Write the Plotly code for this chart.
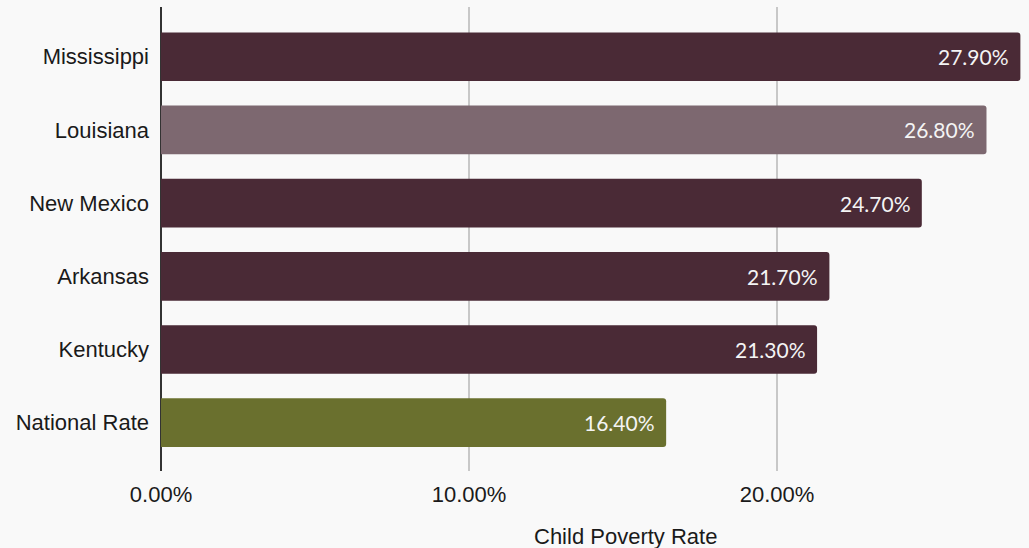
import plotly.graph_objects as go

states = ["Mississippi", "Louisiana", "New Mexico", "Arkansas", "Kentucky", "National Rate"]
rates = [27.90, 26.80, 24.70, 21.70, 21.30, 16.40]
bar_colors = ["#4a2a36", "#7d6870", "#4a2a36", "#4a2a36", "#4a2a36", "#6a702e"]
x_ticks = [0, 10, 20]
x_tick_labels = ["0.00%", "10.00%", "20.00%"]
x_title = "Child Poverty Rate"

fig = go.Figure()
fig.add_trace(go.Bar(
    x=rates, y=states, orientation="h",
    marker=dict(color=bar_colors, cornerradius=3, line=dict(width=0)),
    hoverinfo="x+y",
))

for s, v in zip(states, rates):
    fig.add_annotation(x=v, y=s, text=f"{v:.2f}%", showarrow=False,
                       xanchor="right", yanchor="middle", xshift=-9,
                       font=dict(family="Lato", size=21, color="#f4f4f4"))

fig.add_annotation(x=0.535, y=-0.142, xref="paper", yref="paper", text=x_title,
                   showarrow=False, xanchor="center", yanchor="middle",
                   font=dict(family="Liberation Sans", size=22, color="#1a1a1a"))

fig.update_layout(
    width=1029, height=548,
    margin=dict(l=161, r=0, t=7, b=77),
    paper_bgcolor="#f9f9f9", plot_bgcolor="#f9f9f9",
    bargap=0.335, showlegend=False,
    font=dict(family="Liberation Sans", size=22, color="#1a1a1a"),
)
fig.update_xaxes(range=[0, 28.18], tickvals=x_ticks, ticktext=x_tick_labels,
                 showgrid=True, gridcolor="#c8c8c8", gridwidth=1.5,
                 zeroline=True, zerolinecolor="#333333", zerolinewidth=2,
                 showline=False, ticks="", ticklabelstandoff=8)
fig.update_yaxes(categoryorder="array", categoryarray=states, range=[5.66, -0.68],
                 showgrid=False, zeroline=False, showline=False, ticks="",
                 ticklabelstandoff=11)

fig.write_html("out.html", config={"displayModeBar": False},
               post_script="document.body.style.margin='0';document.body.style.overflow='hidden';")
